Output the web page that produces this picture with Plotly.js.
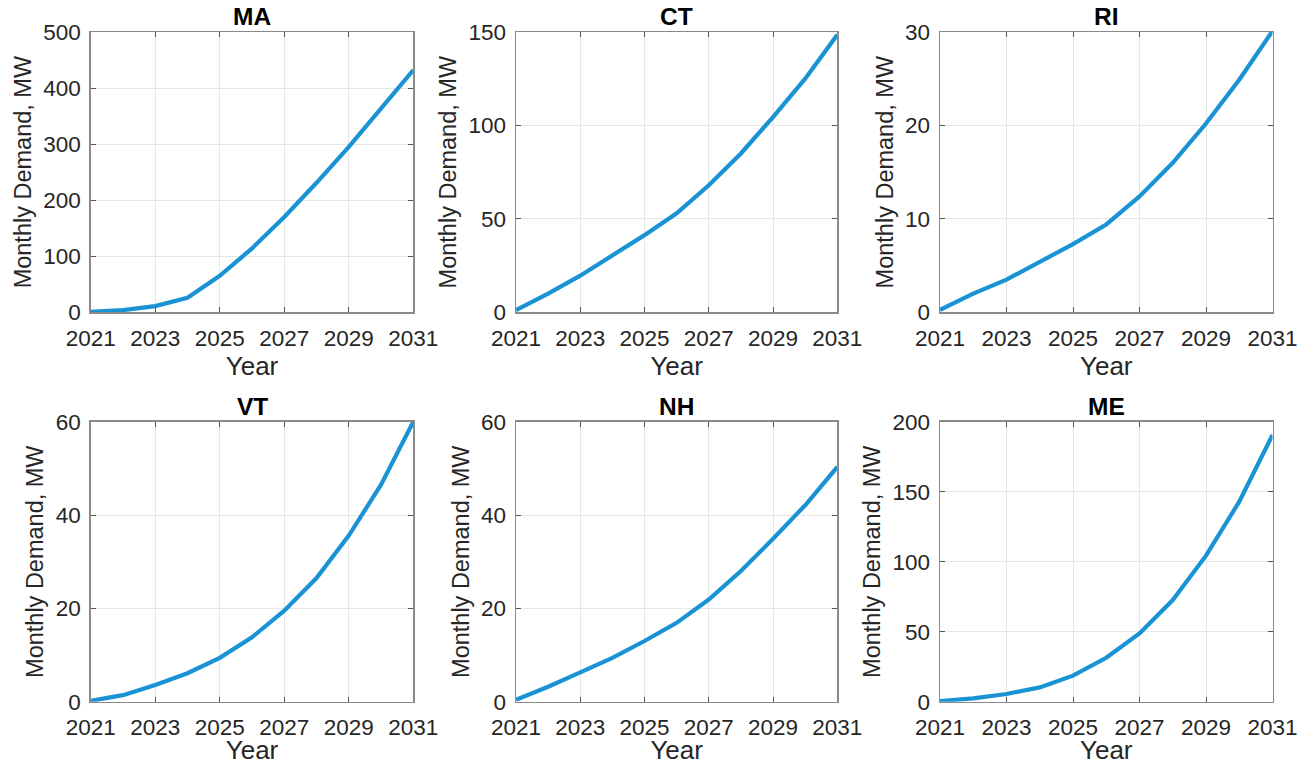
<!DOCTYPE html>
<html>
<head>
<meta charset="utf-8">
<script src="https://cdn.plot.ly/plotly-3.0.1.min.js"></script>
<style>
  html, body { margin: 0; padding: 0; background: #ffffff; }
  #chart { width: 1299px; height: 765px; }
</style>
</head>
<body>
<div id="chart"></div>
<script>
// Projected monthly EV charging demand by New England state, 2021-2031
const years = [2021, 2022, 2023, 2024, 2025, 2026, 2027, 2028, 2029, 2030, 2031];

const demandMA = [1, 4, 11, 26, 65, 114, 170, 231, 295, 363, 432];
const demandCT = [1.2, 10, 19.6, 30.6, 41.3, 53, 68, 85, 104.5, 125, 148.5];
const demandRI = [0.25, 2, 3.5, 5.4, 7.3, 9.4, 12.4, 16, 20.2, 24.9, 30.1];
const demandVT = [0.2, 1.4, 3.6, 6.1, 9.4, 13.8, 19.5, 26.5, 35.6, 46.5, 60];
const demandNH = [0.4, 3.2, 6.3, 9.4, 13, 16.9, 21.9, 28, 34.9, 42.1, 50.3];
const demandME = [0.5, 2.4, 5.5, 10.2, 18.6, 31.4, 48.8, 72.6, 104.3, 142.9, 190.5];

const stateNames = ['MA', 'CT', 'RI', 'VT', 'NH', 'ME'];
const stateSeries = [demandMA, demandCT, demandRI, demandVT, demandNH, demandME];
const yMax = [500, 150, 30, 60, 60, 200];
const yTicks = [
  [0, 100, 200, 300, 400, 500],
  [0, 50, 100, 150],
  [0, 10, 20, 30],
  [0, 20, 40, 60],
  [0, 20, 40, 60],
  [0, 50, 100, 150, 200]
];
const xTicks = [2021, 2023, 2025, 2027, 2029, 2031];

const xLabel = 'Year';
const yLabel = 'Monthly Demand, MW';

// Panel geometry (fractions of the figure)
const W = 1299, H = 765;
const colDomains = [
  [90.7 / W, 413.3 / W],
  [516 / W, 837.3 / W],
  [940 / W, 1272.5 / W]
];
const rowDomains = [
  [1 - 312.3 / H, 1 - 32 / H],
  [1 - 701.7 / H, 1 - 421.7 / H]
];

const fontFamily = '"Liberation Sans", Arial, Helvetica, sans-serif';
const axisGrey = '#262626';
const lineBlue = '#1a93d5';

const traces = [];
const layout = {
  width: W,
  height: H,
  margin: { l: 0, r: 0, t: 0, b: 0 },
  paper_bgcolor: '#ffffff',
  plot_bgcolor: '#ffffff',
  showlegend: false,
  font: { family: fontFamily, color: axisGrey, size: 22 },
  annotations: []
};

stateNames.forEach((name, i) => {
  const n = i + 1;
  const suffix = n === 1 ? '' : String(n);
  const xa = 'x' + suffix;
  const ya = 'y' + suffix;
  const row = Math.floor(i / 3);
  const col = i % 3;

  traces.push({
    type: 'scatter',
    mode: 'lines',
    x: years,
    y: stateSeries[i],
    xaxis: xa,
    yaxis: ya,
    line: { color: lineBlue, width: 4.2 },
    cliponaxis: false,
    hoverinfo: 'x+y'
  });

  const common = {
    showline: true,
    linecolor: '#8a8a8a',
    linewidth: 1.4,
    mirror: 'allticks',
    ticks: 'inside',
    ticklen: 5,
    tickwidth: 1,
    tickcolor: '#555555',
    showgrid: true,
    gridcolor: '#e6e6e6',
    gridwidth: 1,
    zeroline: false,
    tickfont: { family: fontFamily, size: 22.5, color: axisGrey }
  };

  layout['xaxis' + suffix] = Object.assign({}, common, {
    domain: colDomains[col],
    anchor: ya,
    range: [years[0], years[years.length - 1]],
    tickmode: 'array',
    tickvals: xTicks,
    ticktext: xTicks.map(String),
    ticklabelstandoff: 5,
    title: { text: xLabel, font: { family: fontFamily, size: 26, color: axisGrey }, standoff: 5 }
  });

  layout['yaxis' + suffix] = Object.assign({}, common, {
    domain: rowDomains[row],
    anchor: xa,
    range: [0, yMax[i]],
    tickmode: 'array',
    tickvals: yTicks[i],
    ticktext: yTicks[i].map(String),
    ticklabelstandoff: 4,
    title: { text: yLabel, font: { family: fontFamily, size: 23.5, color: axisGrey }, standoff: 5 }
  });

  layout.annotations.push({
    xref: xa + ' domain',
    yref: ya + ' domain',
    x: 0.5,
    y: 1,
    xanchor: 'center',
    yanchor: 'bottom',
    yshift: 0,
    showarrow: false,
    text: '<b>' + name + '</b>',
    font: { family: fontFamily, size: 24.5, color: '#000000' }
  });
});

Plotly.newPlot('chart', traces, layout, { displayModeBar: false, staticPlot: true });
</script>
</body>
</html>
